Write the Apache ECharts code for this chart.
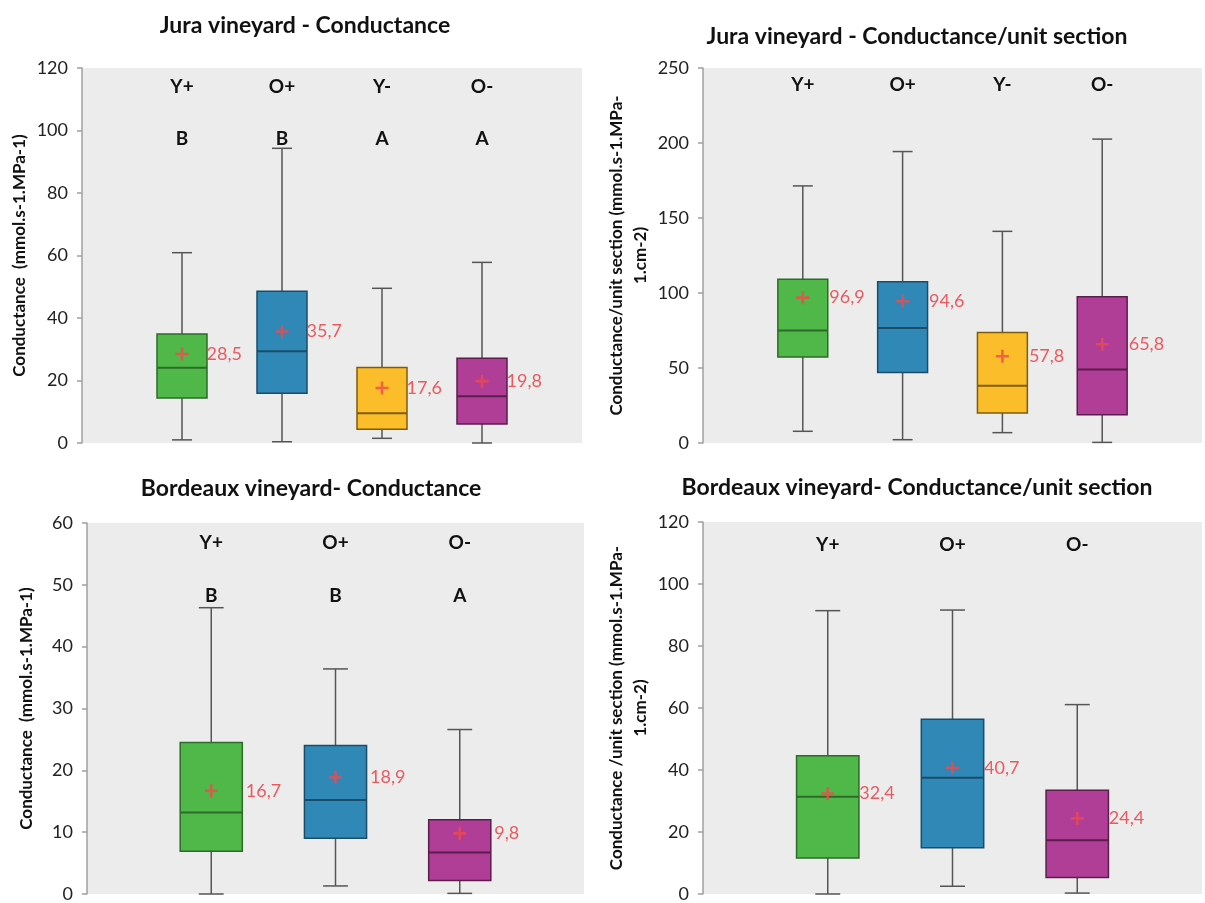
<!DOCTYPE html>
<html>
<head>
<meta charset="utf-8">
<script src="https://cdn.jsdelivr.net/npm/echarts@6/dist/echarts.min.js"></script>
<style>
html, body { margin: 0; padding: 0; background: #fff; }
#chart { width: 1205px; height: 903px; }
</style>
</head>
<body>
<div id="chart"></div>
<script>
// groups and significance letters
const groupsJura = ['Y+', 'O+', 'Y-', 'O-']
const lettersJura = ['B', 'B', 'A', 'A']
const groupsBord = ['Y+', 'O+', 'O-']
const lettersBord = ['B', 'B', 'A']

// box values: [min, q1, median, q3, max]
const juraCond = [
	[1.0, 14.4, 24.1, 34.9, 60.9],
	[0.4, 15.9, 29.4, 48.6, 94.3],
	[1.5, 4.4, 9.5, 24.2, 49.5],
	[0.0, 6.1, 15.0, 27.1, 57.8]
]
const juraCondMean = [28.5, 35.7, 17.6, 19.8]

const juraSec = [
	[7.8, 57.4, 75.0, 109.1, 171.4],
	[2.2, 47.0, 76.6, 107.5, 194.3],
	[6.9, 20.0, 38.1, 73.7, 141.1],
	[0.4, 18.9, 49.0, 97.5, 202.6]
]
const juraSecMean = [96.9, 94.6, 57.8, 65.8]

const bordCond = [
	[0.0, 6.9, 13.2, 24.5, 46.3],
	[1.3, 9.0, 15.2, 24.0, 36.4],
	[0.1, 2.2, 6.7, 12.0, 26.6]
]
const bordCondMean = [16.7, 18.9, 9.8]

const bordSec = [
	[0.0, 11.6, 31.4, 44.6, 91.4],
	[2.5, 14.9, 37.5, 56.4, 91.6],
	[0.3, 5.3, 17.3, 33.5, 61.1]
]
const bordSecMean = [32.4, 40.7, 24.4]

const FONT = 'Lato'
const fillColor = { 'Y+': '#50b848', 'O+': '#2f88b6', 'Y-': '#fbbd2a', 'O-': '#b03e97' }
const darkColor = { 'Y+': '#2c6b29', 'O+': '#1b4c68', 'Y-': '#7d5c0e', 'O-': '#5a1d4c' }

const chart = echarts.init(document.getElementById('chart'))

const makeRender = groups => (params, api) => {
	const i = api.value(0)
	const pMin = api.coord([i, api.value(1)])
	const pQ1 = api.coord([i, api.value(2)])
	const pMed = api.coord([i, api.value(3)])
	const pQ3 = api.coord([i, api.value(4)])
	const pMax = api.coord([i, api.value(5)])
	const band = api.size([1, 0])[0]
	const bw = band * 0.5
	const cw = band * 0.2
	const x = pMin[0]
	const g = groups[params.dataIndex]
	const whisker = { stroke: '#555', lineWidth: 1.5 }
	return {
		type: 'group',
		children: [
			{ type: 'line', shape: { x1: x, y1: pMax[1], x2: x, y2: pMin[1] }, style: whisker },
			{ type: 'line', shape: { x1: x - cw / 2, y1: pMax[1], x2: x + cw / 2, y2: pMax[1] }, style: whisker },
			{ type: 'line', shape: { x1: x - cw / 2, y1: pMin[1], x2: x + cw / 2, y2: pMin[1] }, style: whisker },
			{
				type: 'rect',
				shape: { x: x - bw / 2, y: pQ3[1], width: bw, height: pQ1[1] - pQ3[1] },
				style: { fill: fillColor[g], stroke: darkColor[g], lineWidth: 1.5 }
			},
			{ type: 'line', shape: { x1: x - bw / 2, y1: pMed[1], x2: x + bw / 2, y2: pMed[1] }, style: { stroke: darkColor[g], lineWidth: 2 } }
		]
	}
}

const panels = [
	{ title: 'Jura vineyard - Conductance', tx: 300, ty: 9, groups: groupsJura, letters: lettersJura, box: juraCond, mean: juraCondMean,
		grid: { left: 82, top: 68, width: 500, height: 375 }, max: 120, interval: 20,
		name: 'Conductance  (mmol.s-1.MPa-1)', nameGap: 50, l1: 38, l2: 66, dist: 18 },
	{ title: 'Jura vineyard - Conductance/unit section', tx: 912, ty: 20, groups: groupsJura, letters: null, box: juraSec, mean: juraSecMean,
		grid: { left: 703, top: 68, width: 517, height: 375 }, max: 250, interval: 50,
		name: 'Conductance/unit section (mmol.s-1.MPa-\n1.cm-2)', nameGap: 50, l1: 34, l2: 0, dist: 20 },
	{ title: 'Bordeaux vineyard- Conductance', tx: 306, ty: 472, groups: groupsBord, letters: lettersBord, box: bordCond, mean: bordCondMean,
		grid: { left: 87, top: 523, width: 497, height: 377 }, max: 60, interval: 10,
		name: 'Conductance  (mmol.s-1.MPa-1)', nameGap: 48, l1: 40, l2: 66, dist: 28 },
	{ title: 'Bordeaux vineyard- Conductance/unit section', tx: 912, ty: 471, groups: groupsBord, letters: null, box: bordSec, mean: bordSecMean,
		grid: { left: 703, top: 522, width: 516, height: 377 }, max: 120, interval: 20,
		name: 'Conductance /unit section (mmol.s-1.MPa-\n1.cm-2)', nameGap: 50, l1: 46, l2: 0, dist: 25 }
]

const option = {
	backgroundColor: '#fff',
	animation: false,
	title: [],
	grid: [],
	xAxis: [],
	yAxis: [],
	series: []
}

panels.forEach((p, k) => {
	option.title.push({
		text: p.title,
		left: p.tx,
		top: p.ty,
		textAlign: 'center',
		textStyle: { fontFamily: FONT, fontWeight: 'bold', fontSize: 23, color: '#111' }
	})
	option.grid.push(Object.assign({ show: true, backgroundColor: '#ececec', borderWidth: 0 }, p.grid))
	const cats = [''].concat(p.groups, [''])
	option.xAxis.push({
		gridIndex: k,
		type: 'category',
		position: 'top',
		boundaryGap: false,
		data: cats,
		axisLine: { show: false },
		axisTick: { show: false },
		axisLabel: {
			inside: true,
			interval: 0,
			margin: 0,
			formatter: (v, idx) => {
				if (!v) return ''
				const letter = p.letters ? p.letters[idx - 1] : ''
				return letter ? '{a|' + v + '}\n{b|' + letter + '}' : '{a|' + v + '}'
			},
			rich: {
				a: { fontFamily: FONT, fontWeight: 'bold', fontSize: 19, color: '#111', lineHeight: p.l1 },
				b: { fontFamily: FONT, fontWeight: 'bold', fontSize: 19, color: '#111', lineHeight: p.l2 || 20 }
			}
		}
	})
	option.yAxis.push({
		gridIndex: k,
		type: 'value',
		min: 0,
		max: p.max,
		interval: p.interval,
		name: p.name,
		nameLocation: 'middle',
		nameGap: p.nameGap,
		nameTextStyle: { fontFamily: FONT, fontWeight: 'bold', fontSize: 17, color: '#111', lineHeight: 24 },
		splitLine: { show: false },
		axisLine: { show: true, lineStyle: { color: '#a0a0a0', width: 1.5 } },
		axisTick: { show: true, length: 5, lineStyle: { color: '#a0a0a0', width: 1.5 } },
		axisLabel: { fontFamily: FONT, fontSize: 18, color: '#222', margin: 14 }
	})
	option.series.push({
		type: 'custom',
		xAxisIndex: k,
		yAxisIndex: k,
		renderItem: makeRender(p.groups),
		encode: { x: 0, y: [1, 2, 3, 4, 5] },
		data: p.box.map((b, i) => [i + 1].concat(b)),
		z: 2
	})
	option.series.push({
		type: 'scatter',
		xAxisIndex: k,
		yAxisIndex: k,
		symbol: 'path://M4,0H6V4H10V6H6V10H4V6H0V4H4Z',
		symbolSize: 13,
		itemStyle: { color: '#f04a4f' },
		label: {
			show: true,
			position: 'right',
			distance: p.dist,
			fontFamily: FONT,
			fontSize: 18,
			color: '#e8343c',
			formatter: d => d.value[1].toFixed(1).replace('.', ',')
		},
		data: p.mean.map((m, i) => [i + 1, m]),
		z: 5
	})
})

chart.setOption(option)
</script>
</body>
</html>
